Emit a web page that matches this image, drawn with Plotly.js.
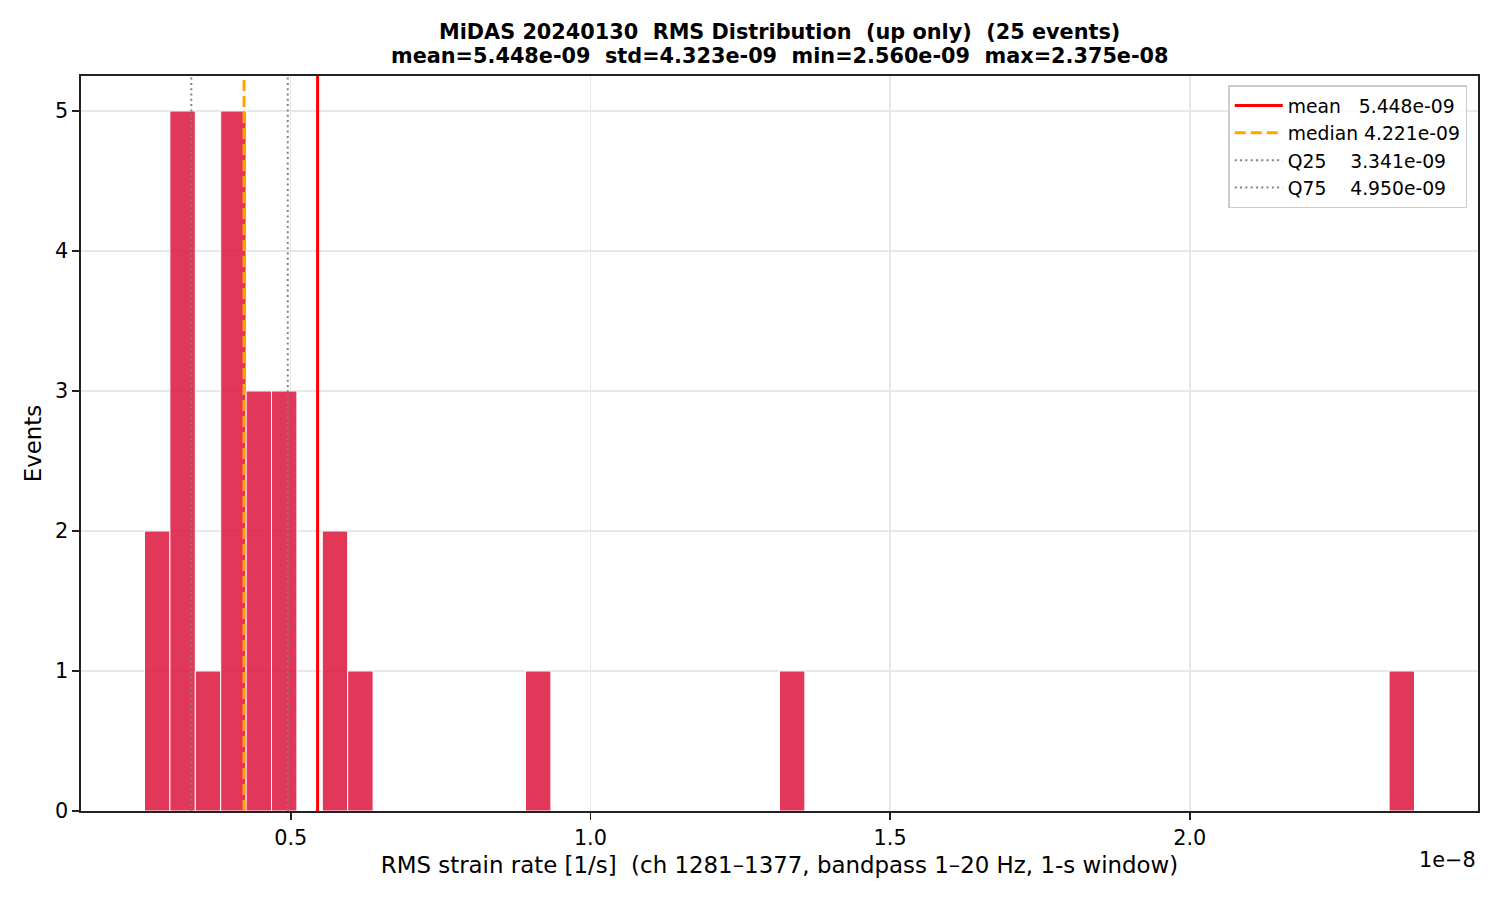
<!DOCTYPE html>
<html>
<head>
<meta charset="utf-8">
<script src="https://cdn.plot.ly/plotly-3.0.1.min.js"></script>
<style>html,body{margin:0;padding:0;background:#fff;}#chart{width:1500px;height:900px;}</style>
</head>
<body>
<div id="chart"></div>
<script>
// ---- data ----
const binStart = 2.560e-9;          // left edge of first bin (data min)
const binEnd = 2.375e-8;            // right edge of last bin (data max)
const binCounts = [2,5,1,5,3,3,0,2,1,0, 0,0,0,0,0,1,0,0,0,0, 0,0,0,0,0,1,0,0,0,0, 0,0,0,0,0,0,0,0,0,0, 0,0,0,0,0,0,0,0,0,1];
const statNames = ["mean", "median", "Q25", "Q75"];
const statValues = [5.448e-9, 4.221e-9, 3.341e-9, 4.950e-9];
const statLabels = ["mean\u00a0\u00a0\u00a05.448e-09", "median 4.221e-09", "Q25\u00a0\u00a0\u00a0\u00a03.341e-09", "Q75\u00a0\u00a0\u00a0\u00a04.950e-09"];
const xTickVals = [0.5e-8, 1.0e-8, 1.5e-8, 2.0e-8];
const xTickText = ["0.5", "1.0", "1.5", "2.0"];
const yTickVals = [0, 1, 2, 3, 4, 5];
const titleLines = ["MiDAS 20240130  RMS Distribution  (up only)  (25 events)",
                    "mean=5.448e-09  std=4.323e-09  min=2.560e-09  max=2.375e-08"];
const xLabel = "RMS strain rate [1/s]  (ch 1281\u20131377, bandpass 1\u201320 Hz, 1-s window)";
const yLabel = "Events";
const offsetText = "1e\u22128";

// ---- build traces ----
const binWidth = (binEnd - binStart) / binCounts.length;
const barX = [], barY = [];
binCounts.forEach((c, i) => {
  if (c > 0) { barX.push(binStart + (i + 0.5) * binWidth); barY.push(c); }
});
const span = binEnd - binStart;
const xRange = [binStart - 0.05 * span, binEnd + 0.05 * span];
const yTop = 5.25;
const lineStyles = [
  {color: "red", width: 3, dash: "solid"},
  {color: "orange", width: 3, dash: "11px,5px"},
  {color: "gray", width: 2, dash: "2px,3.3px"},
  {color: "gray", width: 2, dash: "2px,3.3px"}
];
const traces = [{
  type: "bar", x: barX, y: barY, width: binWidth,
  marker: {color: "rgba(220,20,60,0.85)", line: {color: "white", width: 1}},
  showlegend: false, hoverinfo: "skip"
}];
statValues.forEach((v, i) => {
  traces.push({
    type: "scatter", mode: "lines", x: [v, v], y: [0, yTop],
    name: statLabels[i], legendgroup: statNames[i],
    line: lineStyles[i], hoverinfo: "skip"
  });
});

const font = "DejaVu Sans, sans-serif";
const titleY = [1.0599, 1.0272];
const annotations = titleLines.map((t, i) => ({
  text: "<b>" + t + "</b>", xref: "paper", yref: "paper", x: 0.5, y: titleY[i],
  xanchor: "center", yanchor: "middle", showarrow: false,
  font: {family: font, size: 20.8, color: "black"}
}));
annotations.push({
  text: offsetText, xref: "paper", yref: "paper", x: 1, y: -0.048,
  xanchor: "right", yanchor: "top", showarrow: false,
  font: {family: font, size: 20.8, color: "black"}
});

const layout = {
  width: 1500, height: 900,
  paper_bgcolor: "white", plot_bgcolor: "white",
  margin: {l: 81, r: 22, t: 76, b: 89, pad: 0},
  font: {family: font, size: 20.8, color: "black"},
  bargap: 0,
  xaxis: {
    range: xRange,
    tickmode: "array", tickvals: xTickVals, ticktext: xTickText,
    ticks: "outside", ticklen: 7, tickwidth: 1.6, tickcolor: "#222",
    showline: true, linecolor: "#222", linewidth: 1.6, mirror: true,
    showgrid: true, gridcolor: "#e8e8e8", gridwidth: 1.5,
    zeroline: false,
    tickfont: {family: font, size: 20.8, color: "black"},
    title: {text: xLabel, font: {family: font, size: 22.9, color: "black"}, standoff: 8}
  },
  yaxis: {
    range: [0, yTop],
    tickmode: "array", tickvals: yTickVals,
    ticks: "outside", ticklen: 7, tickwidth: 1.6, tickcolor: "#222",
    showline: true, linecolor: "#222", linewidth: 1.6, mirror: true,
    showgrid: true, gridcolor: "#e8e8e8", gridwidth: 1.5,
    zeroline: false,
    tickfont: {family: font, size: 20.8, color: "black"},
    title: {text: yLabel, font: {family: font, size: 22.9, color: "black"}, standoff: 7}
  },
  legend: {
    x: 0.9923, y: 0.9874, xanchor: "right", yanchor: "top",
    bgcolor: "rgba(255,255,255,0.8)", bordercolor: "#cccccc", borderwidth: 1.5,
    font: {family: font, size: 18.75, color: "black"},
    traceorder: "grouped", tracegroupgap: 0, itemwidth: 48
  },
  annotations: annotations,
  showlegend: true
};

Plotly.newPlot("chart", traces, layout, {staticPlot: true, displayModeBar: false});
</script>
</body>
</html>
